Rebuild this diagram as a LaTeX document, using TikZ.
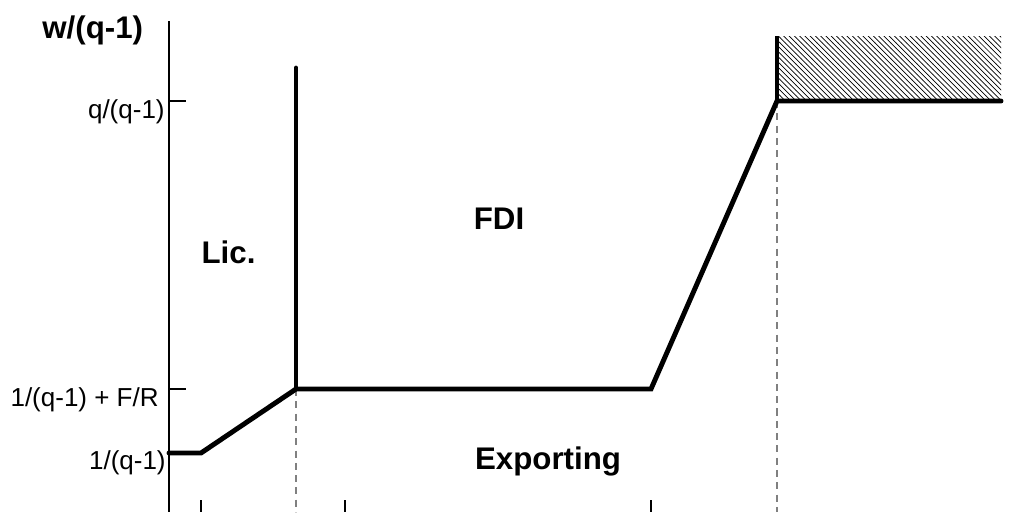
\documentclass[tikz,border=0pt]{standalone}
\usepackage{fontspec}
\setmainfont{Liberation Sans}
\usetikzlibrary{patterns}
\begin{document}
\begin{tikzpicture}[x=0.02cm,y=-0.02cm,
  axisline/.style={line width=1.1pt},
  bound/.style={line width=2.8pt,line cap=round},
  guide/.style={gray,line width=0.8pt,dash pattern=on 4pt off 3pt},
  ticklbl/.style={inner sep=0pt,font=\fontsize{14.8}{17}\selectfont},
  region/.style={inner sep=0pt,font=\fontsize{17.8}{21}\selectfont\bfseries}]
\useasboundingbox (0,0) rectangle (1010,512);
% key points of the regime boundary
\coordinate (a0) at (169,453);
\coordinate (a1) at (201,453);
\coordinate (a2) at (296,389);
\coordinate (a3) at (651,389);
\coordinate (a4) at (777,101);
\coordinate (a5) at (1001,101);
\coordinate (ltop) at (296,68);
\coordinate (htop) at (777,36);
% hatched region above q/(q-1)
\fill[pattern=north west lines] (htop) rectangle (a5);
% vertical axis and its ticks
\draw[axisline] (169,21) -- (169,512);
\draw[axisline] (169,101) -- (186,101);
\draw[axisline] (169,389) -- (186,389);
% ticks along the bottom
\draw[axisline] (201,500) -- (201,512);
\draw[axisline] (345,500) -- (345,512);
\draw[axisline] (651,500) -- (651,512);
% dashed guides
\draw[guide] (a2) -- (296,512);
\draw[guide] (a4) -- (777,512);
% boundaries
\draw[bound] (a0) -- (a1) -- (a2) -- (a3) -- (a4) -- (a5);
\draw[bound] (ltop) -- (a2);
\draw[line width=2pt] (htop) -- (a4);
% labels
\node[region,anchor=base west] (ylab) at (42,38) {w/(q-1)};
\node[ticklbl,anchor=base east] (lq) at (165,118) {q/(q-1)};
\node[ticklbl,anchor=base east] (lf) at (159,406) {1/(q-1) + F/R};
\node[ticklbl,anchor=base east] (l1) at (166,469) {1/(q-1)};
\node[region,anchor=base] (lic) at (228.5,263) {Lic.};
\node[region,anchor=base] (fdi) at (499,229) {FDI};
\node[region,anchor=base] (exp) at (548,469) {Exporting};
\end{tikzpicture}
\end{document}
